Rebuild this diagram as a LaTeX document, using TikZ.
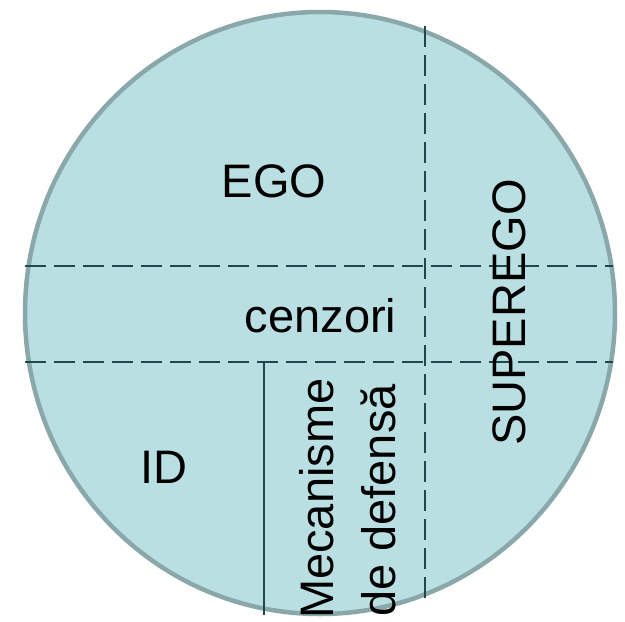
\documentclass[tikz,border=0pt]{standalone}
\usepackage{fontspec}
\setmainfont{Liberation Sans}
\definecolor{circfill}{RGB}{185,223,226}
\definecolor{circline}{RGB}{138,168,170}
\definecolor{divline}{RGB}{30,72,76}
\begin{document}
\begin{tikzpicture}[x=1pt,y=-1pt,
  divider/.style={draw=divline,line width=2.5pt,dash pattern=on 21pt off 8pt},
  solidline/.style={draw=divline,line width=2pt},
  lbl/.style={font=\fontsize{47}{56}\selectfont,inner sep=0pt,text=black},
  psyche/.style={fill=circfill,draw=circline,line width=4.5pt},
]
\useasboundingbox (0,0) rectangle (625,622);
\coordinate (c) at (320,313);
\path[psyche] (c) ellipse [x radius=295, y radius=301];
% dividers
\coordinate (h1L) at (25,266);
\coordinate (h1R) at (613,266);
\coordinate (h2L) at (25,362);
\coordinate (h2R) at (613,362);
\coordinate (vT) at (425,26);
\coordinate (vB) at (425,599);
\coordinate (sT) at (264,362);
\coordinate (sB) at (264,615);
\draw[divider] (h1L) -- (h1R);
\draw[divider] (h2L) -- (h2R);
\draw[divider] (vT) -- (vB);
\draw[solidline] (sT) -- (sB);
% labels
\node[lbl, anchor=base] (ego) at (274,197) {EGO};
\node[lbl, anchor=base] (cenzori) at (320.5,332) {cenzori};
\node[lbl, anchor=base] (id) at (163.5,483) {ID};
\node[lbl, anchor=base, rotate=90] (superego) at (525,312.5) {SUPEREGO};
\node[lbl, anchor=base west, rotate=90] (mec1) at (333,619) {Mecanisme};
\node[lbl, anchor=base west, rotate=90] (mec2) at (395,617) {de defensă};
\end{tikzpicture}
\end{document}
